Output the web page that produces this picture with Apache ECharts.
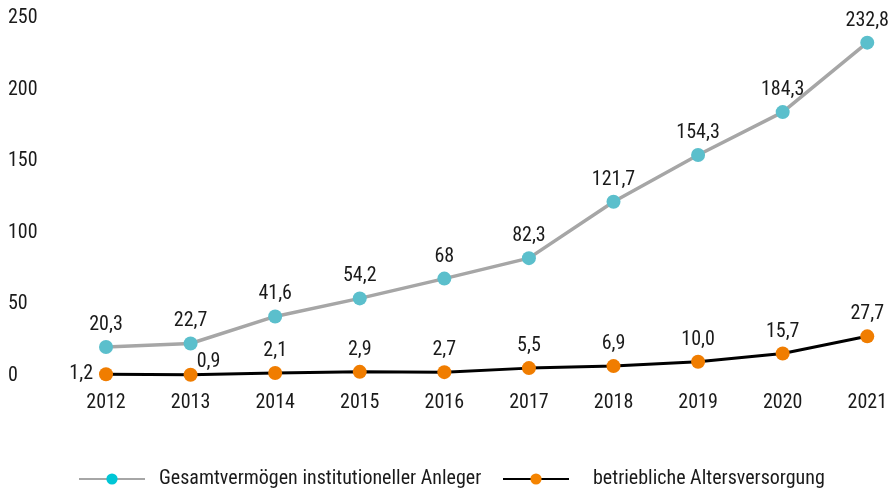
<!DOCTYPE html>
<html>
    <head>
        <meta charset="utf-8">
        <script src="https://cdn.jsdelivr.net/npm/echarts@6/dist/echarts.min.js"></script>
    </head>
    <body style="margin:0">
        <div id="chart" style="width: 890px; height: 488px"></div>
        <script type="text/javascript">
            const years = ['2012', '2013', '2014', '2015', '2016', '2017', '2018', '2019', '2020', '2021'];
            const gesamt = [20.3, 22.7, 41.6, 54.2, 68, 82.3, 121.7, 154.3, 184.3, 232.8];
            const gesamtLabels = ['20,3', '22,7', '41,6', '54,2', '68', '82,3', '121,7', '154,3', '184,3', '232,8'];
            const bav = [1.2, 0.9, 2.1, 2.9, 2.7, 5.5, 6.9, 10.0, 15.7, 27.7];
            const bavLabels = ['1,2', '0,9', '2,1', '2,9', '2,7', '5,5', '6,9', '10,0', '15,7', '27,7'];

            const font = "'Roboto Condensed', 'DejaVu Sans Condensed', sans-serif";
            const myChart = echarts.init(document.getElementById('chart'));

            const bavData = bav.map(function (v, i) {
                let item = { value: v };
                if (i === 0) item.label = { position: 'left', distance: 6 };
                if (i === 1) item.label = { offset: [18, 9] };
                return item;
            });

            const option = {
                animation: false,
                textStyle: { fontFamily: font },
                grid: { left: 106, right: 21, top: 18, bottom: 112 },
                xAxis: {
                    type: 'category',
                    data: years,
                    boundaryGap: false,
                    axisLine: { show: false },
                    axisTick: { show: false },
                    axisLabel: { color: '#1a1a1a', fontSize: 20, fontFamily: font, margin: 17 }
                },
                yAxis: {
                    type: 'value',
                    min: 0,
                    max: 250,
                    interval: 50,
                    splitLine: { show: false },
                    axisLabel: { color: '#1a1a1a', fontSize: 20, fontFamily: font, align: 'left', margin: 98 }
                },
                legend: [
                    {
                        left: 78, top: 469, padding: 0,
                        itemWidth: 66, itemHeight: 14,
                        data: [{ name: 'Gesamtvermögen institutioneller Anleger', itemStyle: { color: '#00c6d6' } }],
                        textStyle: { fontSize: 20, color: '#1a1a1a', fontFamily: font, padding: [0, 0, 0, 9] }
                    },
                    {
                        left: 502, top: 469, padding: 0,
                        itemWidth: 66, itemHeight: 14,
                        data: [{ name: 'betriebliche Altersversorgung', itemStyle: { color: '#f58400' } }],
                        textStyle: { fontSize: 20, color: '#1a1a1a', fontFamily: font, padding: [0, 0, 0, 19] }
                    }
                ],
                series: [
                    {
                        name: 'betriebliche Altersversorgung',
                        type: 'line',
                        data: bavData,
                        symbol: 'circle',
                        symbolSize: 14,
                        lineStyle: { color: '#000', width: 3 },
                        itemStyle: { color: '#f07d00' },
                        label: {
                            show: true, position: 'top', fontSize: 20, color: '#1a1a1a', fontFamily: font,
                            formatter: function (p) { return bavLabels[p.dataIndex]; }
                        }
                    },
                    {
                        name: 'Gesamtvermögen institutioneller Anleger',
                        type: 'line',
                        data: gesamt,
                        symbol: 'circle',
                        symbolSize: 14,
                        lineStyle: { color: '#a6a6a6', width: 3.5 },
                        itemStyle: { color: '#5bbfcc' },
                        label: {
                            show: true, position: 'top', fontSize: 20, color: '#1a1a1a', fontFamily: font,
                            formatter: function (p) { return gesamtLabels[p.dataIndex]; }
                        }
                    }
                ]
            };

            myChart.setOption(option);
        </script>
    </body>
</html>
